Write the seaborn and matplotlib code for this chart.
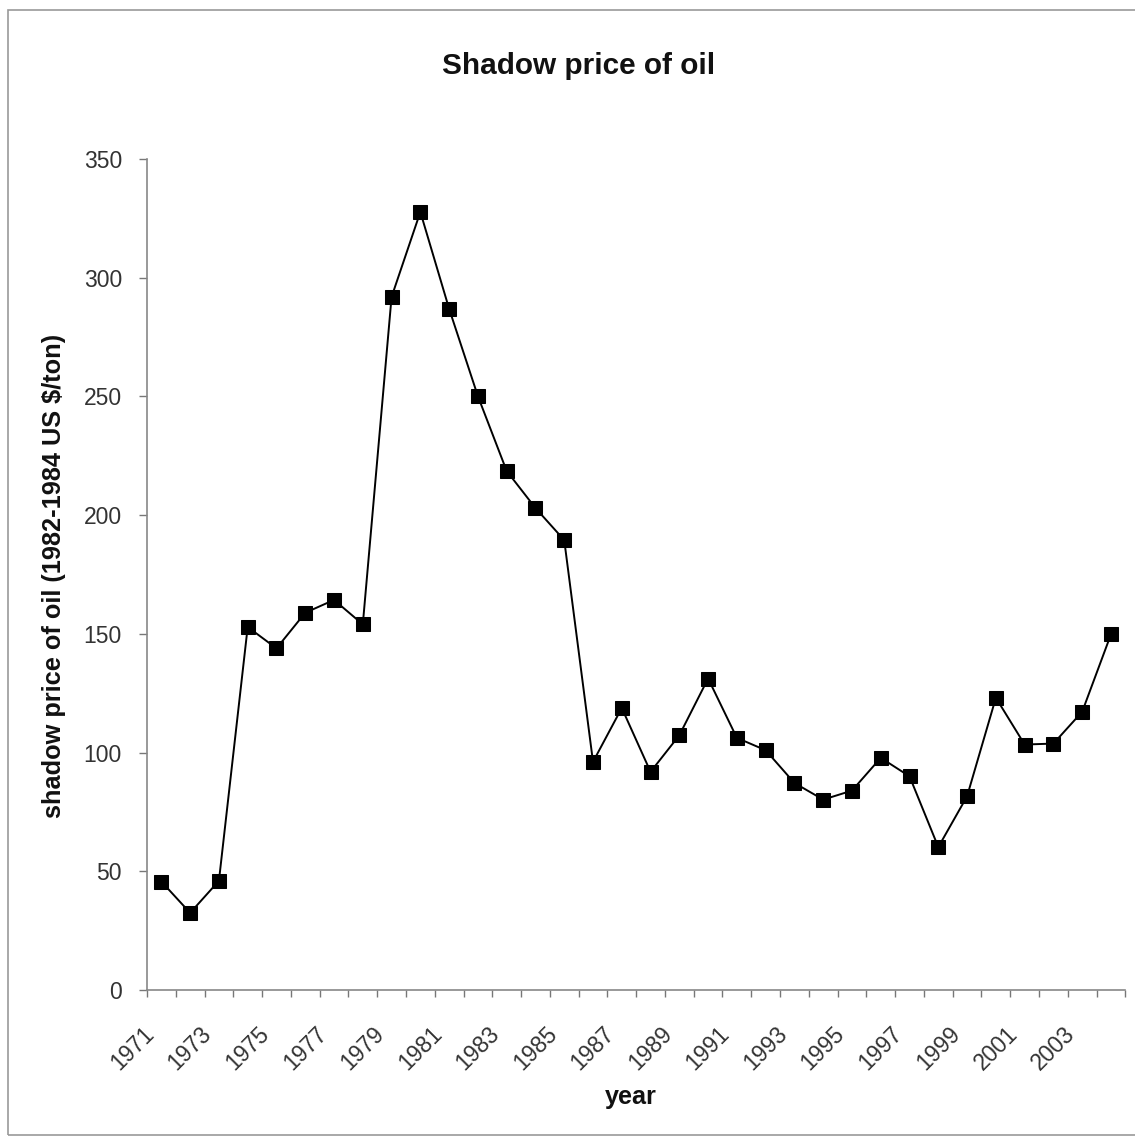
import matplotlib
matplotlib.use("Agg")
import matplotlib.pyplot as plt
import matplotlib.transforms as mtransforms
import numpy as np
import pandas as pd
import seaborn as sns

# values
years = list(range(1971, 2005))
price = [45.7, 32.5, 46.0, 152.9, 143.9, 158.9, 164.3, 154.0, 291.9, 327.7,
         286.9, 250.1, 218.6, 203.0, 189.5, 96.1, 118.8, 91.9, 107.3, 131.2,
         106.2, 101.0, 87.2, 80.2, 84.0, 97.8, 90.0, 60.2, 81.6, 123.1,
         103.4, 103.8, 117.2, 149.8]
y_ticks = [0, 50, 100, 150, 200, 250, 300, 350]

df = pd.DataFrame({"pos": np.arange(len(years)), "year": years, "price": price})

sns.set_theme(style="white")
plt.rcParams['font.family'] = ['Liberation Sans', 'DejaVu Sans']

fig = plt.figure(figsize=(11.35, 11.38), dpi=100)
ax = fig.add_axes([0.1295, 0.130, 0.8620, 0.7303])

sns.lineplot(data=df, x="pos", y="price", ax=ax, color="black", linewidth=1.4,
             marker="s", markersize=10, markeredgecolor="black", markerfacecolor="black")

ax.set_xlim(-0.5, len(years) - 0.5)
ax.set_ylim(0, 350)
ax.set_yticks(y_ticks)
ax.set_yticklabels([str(v) for v in y_ticks], fontsize=16.5, color="#333333")

# labels every other year at category centres, tick marks at category edges
ax.set_xticks(df["pos"][::2])
ax.set_xticklabels([str(y) for y in years[::2]], rotation=45, ha="right",
                   rotation_mode="anchor", fontsize=16.5, color="#333333")
ax.set_xticks(np.arange(-0.5, len(years)), minor=True)
ax.tick_params(axis="x", which="major", length=0, pad=23)
ax.tick_params(axis="x", which="minor", length=5, width=1, color="#777777", bottom=True)
ax.tick_params(axis="y", length=6, width=1, color="#777777", left=True, pad=12)

shift = mtransforms.ScaledTranslation(-19 / 100, 0, fig.dpi_scale_trans)
for lab in ax.get_xticklabels():
    lab.set_transform(lab.get_transform() + shift)

for side in ["top", "right"]:
    ax.spines[side].set_visible(False)
for side in ["left", "bottom"]:
    ax.spines[side].set_color("#888888")
    ax.spines[side].set_linewidth(1.2)

ax.set_xlabel("")
ax.set_ylabel("")
fig.text(0.5555, 1 - 1097 / 1138, "year", ha="center", va="center",
         fontsize=18.2, fontweight="bold", color="#111111")
fig.text(54 / 1135, 1 - 576 / 1138, "shadow price of oil (1982-1984 US $/ton)",
         rotation=90, ha="center", va="center", fontsize=18.3,
         fontweight="bold", color="#111111")
fig.text(579 / 1135, 1 - 66 / 1138, "Shadow price of oil", ha="center", va="center",
         fontsize=21.4, fontweight="bold", color="#111111")

# outer chart frame
fig.patches.append(plt.Rectangle((0.007, 0.003), 1.2, 0.988, transform=fig.transFigure,
                                 fill=False, edgecolor="#999999", linewidth=1.2))

fig.savefig("out.png", dpi=100)
